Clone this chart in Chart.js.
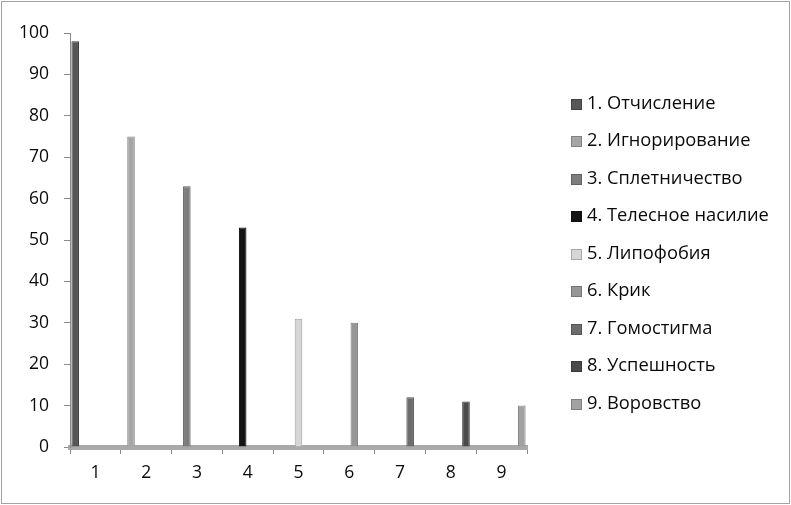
<!DOCTYPE html>
<html><head><meta charset="utf-8">
<script src="https://cdn.jsdelivr.net/npm/chart.js@4"></script>
<style>
html,body{margin:0;padding:0;background:#fff;}
#wrap{position:relative;width:791px;height:505px;}
#frame{position:absolute;left:1px;top:1px;width:787px;height:501px;border:1px solid #a3a3a3;pointer-events:none;}
#legend{position:absolute;left:571px;top:0;font-family:'Open Sans',sans-serif;font-size:18.3px;color:#0a0a0a;}
.li{position:absolute;left:0;white-space:nowrap;height:22px;line-height:22px;}
.sw{display:inline-block;width:11px;height:11px;margin-right:5px;vertical-align:-1px;box-sizing:border-box;border:1px solid rgba(0,0,0,0.22);}
</style></head>
<body><div id="wrap"><canvas id="c" width="791" height="505"></canvas><div id="legend"></div><div id="frame"></div></div>
<script>
const categories = ['1','2','3','4','5','6','7','8','9'];
const seriesNames = ['1. Отчисление','2. Игнорирование','3. Сплетничество','4. Телесное насилие','5. Липофобия','6. Крик','7. Гомостигма','8. Успешность','9. Воровство'];
const seriesValues = [98, 75, 63, 53, 31, 30, 12, 11, 10];
const seriesColors = ['#575757','#a6a6a6','#7d7d7d','#141414','#d6d6d6','#969696','#6c6c6c','#4a4a4a','#a2a2a2'];
const seriesBorders = ['#3e3e3e','#8a8a8a','#626262','#000000','#9c9c9c','#7a7a7a','#505050','#333333','#868686'];
const yTicks = [0,10,20,30,40,50,60,70,80,90,100];

const datasets = seriesNames.map((name, i) => ({
  label: name,
  data: categories.map((c, j) => j === i ? seriesValues[i] : null),
  backgroundColor: seriesColors[i],
  borderColor: seriesBorders[i],
  borderWidth: 1,
  categoryPercentage: 0.895,
  barPercentage: 1.5
}));

const font = {family: "'Open Sans', sans-serif", size: 17.5};
new Chart(document.getElementById('c'), {
  type: 'bar',
  data: {labels: categories, datasets},
  options: {
    responsive: false,
    animation: false,
    layout: {padding: {top: 33, right: 264, bottom: 0, left: 0}},
    plugins: {legend: {display: false}, tooltip: {enabled: false}},
    scales: {
      x: {
        offset: true,
        grid: {offset: true, drawOnChartArea: false, drawTicks: true, tickLength: 7, color: '#8a8a8a'},
        border: {display: true, color: '#a9a9a9', width: 5},
        ticks: {font, color: '#0a0a0a', padding: 9},
        afterFit: s => { s.height = 58; }
      },
      y: {
        min: 0, max: 100,
        afterBuildTicks: s => { s.ticks = yTicks.map(v => ({value: v})); },
        grid: {drawOnChartArea: false, drawTicks: true, tickLength: 6, color: '#8a8a8a'},
        border: {display: true, color: '#8a8a8a', width: 1},
        ticks: {font, color: '#0a0a0a', padding: 15},
        afterFit: s => { s.width = 70; }
      }
    }
  }
});

const lg = document.getElementById('legend');
seriesNames.forEach((n, i) => {
  const d = document.createElement('div');
  d.className = 'li';
  d.style.top = (101.7 + 37.5 * i - 11) + 'px';
  d.innerHTML = '<span class="sw" style="background:' + seriesColors[i] + '"></span>' + n;
  lg.appendChild(d);
});
</script></body></html>
